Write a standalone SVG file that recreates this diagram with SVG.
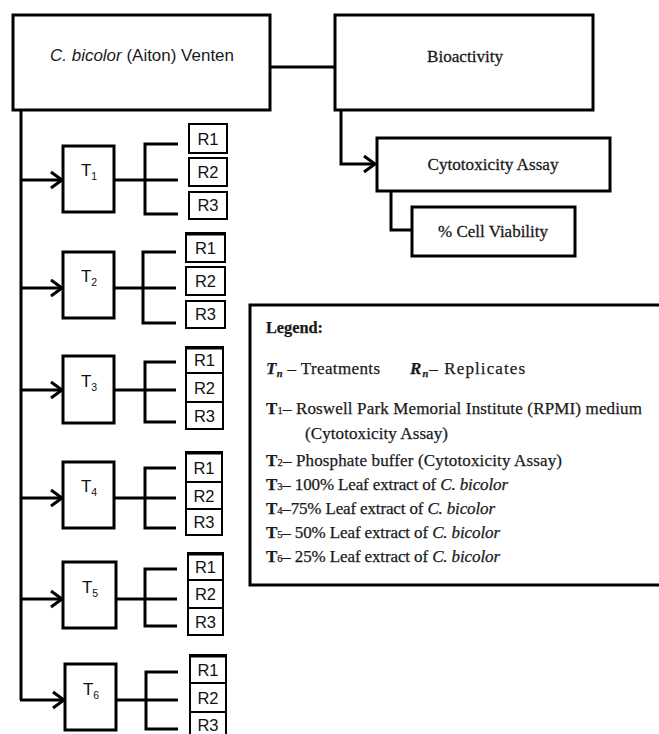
<svg xmlns="http://www.w3.org/2000/svg" width="659" height="734" viewBox="0 0 659 734">
<style>
.box{fill:#fff;stroke:#000;stroke-width:3}
.tbox{fill:#fff;stroke:#000;stroke-width:3}
.rbox{fill:#fff;stroke:#000;stroke-width:2}
.ln{fill:none;stroke:#000;stroke-width:3;stroke-linecap:butt;stroke-linejoin:miter}
.sans{font-family:"Liberation Sans",Arial,sans-serif;fill:#1a1a1a}
.serif{font-family:"Liberation Serif","Times New Roman",serif;fill:#1a1a1a;stroke:#1a1a1a;stroke-width:0.3}
.rl{font-family:"Liberation Sans",Arial,sans-serif;font-size:16.5px;fill:#111;text-anchor:middle}
.tl{font-family:"Liberation Sans",Arial,sans-serif;font-size:17px;fill:#111;text-anchor:middle}
.lg{font-family:"Liberation Serif","Times New Roman",serif;font-size:17px;fill:#1a1a1a;stroke:#1a1a1a;stroke-width:0.25}
.b{font-weight:bold}
.i{font-style:italic}
.sm{font-size:10.5px}
</style>
<defs>
<marker id="arr" markerUnits="userSpaceOnUse" markerWidth="18" markerHeight="22" refX="13" refY="10" orient="auto">
<path d="M2,2 L13,10 L2,18" fill="none" stroke="#000" stroke-width="3"/>
</marker>
</defs>

<g id="connectors">
<line class="ln" x1="270" y1="67" x2="335" y2="67"/>
<polyline class="ln" points="341,110 341,164 375,164" marker-end="url(#arr)"/>
<polyline class="ln" points="391,191 391,230 412,230"/>
<line class="ln" x1="21" y1="110" x2="21" y2="700"/>
<line class="ln" x1="21" y1="180" x2="62" y2="180" marker-end="url(#arr)"/>
<line class="ln" x1="21" y1="288" x2="62" y2="288" marker-end="url(#arr)"/>
<line class="ln" x1="21" y1="390" x2="62" y2="390" marker-end="url(#arr)"/>
<line class="ln" x1="21" y1="498" x2="62" y2="498" marker-end="url(#arr)"/>
<line class="ln" x1="21" y1="599" x2="62" y2="599" marker-end="url(#arr)"/>
<line class="ln" x1="20" y1="700" x2="64" y2="700" marker-end="url(#arr)"/>
<line class="ln" x1="114" y1="180" x2="145" y2="180"/>
<polyline class="ln" points="178,144 145,144 145,214 178,214"/>
<line class="ln" x1="145" y1="180" x2="178" y2="180"/>
<line class="ln" x1="114" y1="288" x2="143" y2="288"/>
<polyline class="ln" points="176,252 143,252 143,323 176,323"/>
<line class="ln" x1="143" y1="288" x2="176" y2="288"/>
<line class="ln" x1="114" y1="390" x2="145" y2="390"/>
<polyline class="ln" points="176,362 145,362 145,422 176,422"/>
<line class="ln" x1="145" y1="390" x2="176" y2="390"/>
<line class="ln" x1="114" y1="498" x2="145" y2="498"/>
<polyline class="ln" points="176,468 145,468 145,528 176,528"/>
<line class="ln" x1="145" y1="498" x2="176" y2="498"/>
<line class="ln" x1="116" y1="599" x2="145" y2="599"/>
<polyline class="ln" points="177,569 145,569 145,626 177,626"/>
<line class="ln" x1="145" y1="599" x2="177" y2="599"/>
<line class="ln" x1="116" y1="700" x2="146" y2="700"/>
<polyline class="ln" points="178,672 146,672 146,729 178,729"/>
<line class="ln" x1="146" y1="700" x2="178" y2="700"/>
</g>

<g id="node-main">
<rect class="box" x="13" y="15" width="257" height="95"/>
<text class="sans" x="142" y="61" font-size="17" text-anchor="middle" textLength="184" lengthAdjust="spacingAndGlyphs"><tspan class="i">C. bicolor</tspan> (Aiton) Venten</text>
</g>
<g id="node-bioactivity">
<rect class="box" x="335" y="15" width="258" height="95"/>
<text class="serif" x="465" y="62" font-size="17.5" text-anchor="middle" textLength="76" lengthAdjust="spacingAndGlyphs">Bioactivity</text>
</g>
<g id="node-cytotoxicity">
<rect class="box" x="377" y="138" width="233" height="53"/>
<text class="serif" x="493" y="170" font-size="17.5" text-anchor="middle" textLength="131" lengthAdjust="spacingAndGlyphs">Cytotoxicity Assay</text>
</g>
<g id="node-viability">
<rect class="box" x="412" y="207" width="163" height="49"/>
<text class="serif" x="493" y="237" font-size="17.5" text-anchor="middle" textLength="110" lengthAdjust="spacingAndGlyphs">% Cell Viability</text>
</g>

<g id="node-T1">
<rect class="tbox" x="63" y="146" width="51" height="66"/>
<text class="tl" x="89" y="176">T<tspan class="sm" dy="4">1</tspan></text>
</g>
<g id="node-T1-R">
<rect class="rbox" x="189" y="124" width="38" height="29"/><text class="rl" x="208" y="145">R1</text>
<rect class="rbox" x="189" y="158" width="38" height="28"/><text class="rl" x="208" y="178">R2</text>
<rect class="rbox" x="189" y="192" width="38" height="27"/><text class="rl" x="208" y="211">R3</text>
</g>

<g id="node-T2">
<rect class="tbox" x="63" y="252" width="51" height="66"/>
<text class="tl" x="89" y="282">T<tspan class="sm" dy="4">2</tspan></text>
</g>
<g id="node-T2-R">
<rect class="rbox" x="186" y="233" width="39" height="29"/><line x1="186" y1="234" x2="225" y2="234" stroke="#000" stroke-width="3"/><text class="rl" x="205.5" y="254">R1</text>
<rect class="rbox" x="186" y="267" width="39" height="28"/><text class="rl" x="205.5" y="287">R2</text>
<rect class="rbox" x="186" y="301" width="39" height="27"/><text class="rl" x="205.5" y="320">R3</text>
</g>

<g id="node-T3">
<rect class="tbox" x="63" y="356" width="51" height="67"/>
<text class="tl" x="89" y="387">T<tspan class="sm" dy="4">3</tspan></text>
</g>
<g id="node-T3-R">
<rect class="rbox" x="186" y="347" width="37" height="26"/><line x1="186" y1="348" x2="223" y2="348" stroke="#000" stroke-width="3"/><text class="rl" x="204.5" y="366">R1</text>
<rect class="rbox" x="186" y="373" width="37" height="29"/><text class="rl" x="204.5" y="394">R2</text>
<rect class="rbox" x="186" y="402" width="37" height="27"/><text class="rl" x="204.5" y="422">R3</text>
</g>

<g id="node-T4">
<rect class="tbox" x="63" y="462" width="51" height="66"/>
<text class="tl" x="89" y="492">T<tspan class="sm" dy="4">4</tspan></text>
</g>
<g id="node-T4-R">
<rect class="rbox" x="186" y="452" width="36" height="30"/><line x1="186" y1="453" x2="222" y2="453" stroke="#000" stroke-width="3"/><text class="rl" x="204" y="474">R1</text>
<rect class="rbox" x="186" y="482" width="36" height="27"/><text class="rl" x="204" y="502">R2</text>
<rect class="rbox" x="186" y="509" width="36" height="26"/><text class="rl" x="204" y="528">R3</text>
</g>

<g id="node-T5">
<rect class="tbox" x="63" y="562" width="53" height="66"/>
<text class="tl" x="90" y="593">T<tspan class="sm" dy="4">5</tspan></text>
</g>
<g id="node-T5-R">
<rect class="rbox" x="188" y="553" width="35" height="27"/><line x1="188" y1="554" x2="223" y2="554" stroke="#000" stroke-width="3"/><text class="rl" x="205.5" y="573">R1</text>
<rect class="rbox" x="188" y="580" width="35" height="28"/><text class="rl" x="205.5" y="600">R2</text>
<rect class="rbox" x="188" y="608" width="35" height="27"/><text class="rl" x="205.5" y="628">R3</text>
</g>

<g id="node-T6">
<rect class="tbox" x="65" y="664" width="51" height="66"/>
<text class="tl" x="91" y="695">T<tspan class="sm" dy="4">6</tspan></text>
</g>
<g id="node-T6-R">
<rect class="rbox" x="190" y="655" width="36" height="28"/><line x1="190" y1="656" x2="226" y2="656" stroke="#000" stroke-width="3"/><text class="rl" x="208" y="676">R1</text>
<rect class="rbox" x="190" y="683" width="36" height="29"/><text class="rl" x="208" y="704">R2</text>
<rect class="rbox" x="190" y="712" width="36" height="30"/><text class="rl" x="208" y="731">R3</text>
</g>

<g id="legend">
<rect x="250" y="305" width="430" height="280" fill="#fff" stroke="#000" stroke-width="3"/>
<text class="lg b" x="266" y="333" textLength="57" lengthAdjust="spacingAndGlyphs">Legend:</text>
<text class="lg" x="266" y="374" textLength="114" lengthAdjust="spacing"><tspan class="b i">T</tspan><tspan class="b i sm" dy="3">n</tspan><tspan dy="-3"> – Treatments</tspan></text>
<text class="lg" x="410" y="374" textLength="115" lengthAdjust="spacing"><tspan class="b i">R</tspan><tspan class="b i sm" dy="3">n</tspan><tspan dy="-3">– Replicates</tspan></text>
<text class="lg" x="266" y="414" textLength="376" lengthAdjust="spacing"><tspan class="b">T</tspan><tspan class="sm">1</tspan>– Roswell Park Memorial Institute (RPMI) medium</text>
<text class="lg" x="305" y="439" textLength="143" lengthAdjust="spacing">(Cytotoxicity Assay)</text>
<text class="lg" x="266" y="466" textLength="296" lengthAdjust="spacing"><tspan class="b">T</tspan><tspan class="sm">2</tspan>– Phosphate buffer (Cytotoxicity Assay)</text>
<text class="lg" x="266" y="490" textLength="242" lengthAdjust="spacing"><tspan class="b">T</tspan><tspan class="sm">3</tspan>– 100% Leaf extract of <tspan class="i">C. bicolor</tspan></text>
<text class="lg" x="266" y="514" textLength="229" lengthAdjust="spacing"><tspan class="b">T</tspan><tspan class="sm">4</tspan>–75% Leaf extract of <tspan class="i">C. bicolor</tspan></text>
<text class="lg" x="266" y="538" textLength="234" lengthAdjust="spacing"><tspan class="b">T</tspan><tspan class="sm">5</tspan>– 50% Leaf extract of <tspan class="i">C. bicolor</tspan></text>
<text class="lg" x="266" y="562" textLength="234" lengthAdjust="spacing"><tspan class="b">T</tspan><tspan class="sm">6</tspan>– 25% Leaf extract of <tspan class="i">C. bicolor</tspan></text>
</g>
</svg>
